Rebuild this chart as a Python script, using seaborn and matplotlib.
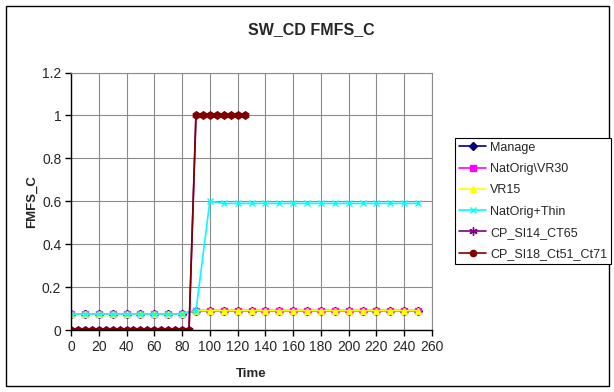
import matplotlib
matplotlib.use("Agg")
import matplotlib.pyplot as plt
import seaborn as sns
import pandas as pd
from matplotlib.patches import Rectangle

# Data
time_10 = list(range(0, 251, 10))
low_vals = [0.075] * 9 + [0.09] * 17
thin_vals = [0.075] * 9 + [0.09, 0.60] + [0.59] * 15

cp_time = list(range(0, 126, 5))
cp_vals = [0.0] * 18 + [1.0] * 8

series_names = ["Manage", "NatOrig\\VR30", "VR15", "NatOrig+Thin",
                "CP_SI14_CT65", "CP_SI18_Ct51_Ct71"]
series_x = [time_10, time_10, time_10, time_10, cp_time, cp_time]
series_y = [low_vals, low_vals, low_vals, thin_vals, cp_vals, cp_vals]
colors = ["#000080", "#FF00FF", "#FFFF00", "#00FFFF", "#800080", "#800000"]
markers = ["D", "s", "^", "x", (6, 2, 0), "o"]
msizes = [4, 4, 5, 5, 6, 4.5]

sns.set_style("white")
plt.rcParams["font.family"] = ["Liberation Sans", "DejaVu Sans"]

fig = plt.figure(figsize=(6.14, 3.92), dpi=100)
ax = fig.add_axes([71 / 614, 1 - 330 / 392, (432 - 71) / 614, (330 - 72.5) / 392])

# one line per series, drawn in legend order
for name, xs, ys, c, m, ms in zip(series_names, series_x, series_y, colors, markers, msizes):
    df = pd.DataFrame({"Time": xs, "FMFS_C": ys})
    sns.lineplot(data=df, x="Time", y="FMFS_C", ax=ax, color=c, marker=m,
                 markersize=ms, markeredgecolor=c, markeredgewidth=1,
                 linewidth=1.2, label=name, legend=False)

ax.set_xlim(0, 260)
ax.set_ylim(0, 1.2)
ax.set_xticks(range(0, 261, 20))
ax.set_yticks([0, 0.2, 0.4, 0.6, 0.8, 1, 1.2])
ax.set_yticklabels(["0", "0.2", "0.4", "0.6", "0.8", "1", "1.2"])
ax.grid(True, color="#8c8c8c", linewidth=0.8)
ax.set_axisbelow(True)
for s in ["top", "right"]:
    ax.spines[s].set_color("#8c8c8c")
    ax.spines[s].set_linewidth(0.8)
for s in ["left", "bottom"]:
    ax.spines[s].set_color("black")
    ax.spines[s].set_linewidth(1)
ax.tick_params(axis="both", direction="out", length=4, width=1, color="black",
               labelsize=10, bottom=True, left=True, pad=3)
ax.set_xlabel("Time", fontsize=9.5, fontweight="bold", labelpad=10)
ax.set_ylabel("FMFS_C", fontsize=9.5, fontweight="bold", labelpad=3)
ax.set_clip_on(False)

# title centred over the whole chart area, Excel style
fig.text(311 / 614, 1 - 30 / 392, "SW_CD FMFS_C", ha="center", va="center",
         fontsize=11.5, fontweight="bold")

handles, labels = ax.get_legend_handles_labels()
leg = fig.legend(handles, labels, loc="upper left",
                 bbox_to_anchor=(455 / 614, 1 - 138 / 392),
                 fontsize=9, frameon=True, fancybox=False, framealpha=1,
                 edgecolor="black", borderpad=0.3, labelspacing=0.74,
                 handlelength=2.2, handletextpad=0.3, borderaxespad=0)
leg.get_frame().set_linewidth(0.8)

# outer chart border
fig.patches.append(Rectangle((6 / 614, 6 / 392), 603 / 614, 380 / 392,
                             transform=fig.transFigure, fill=False,
                             edgecolor="black", linewidth=1))

fig.savefig("out.png", dpi=100)
